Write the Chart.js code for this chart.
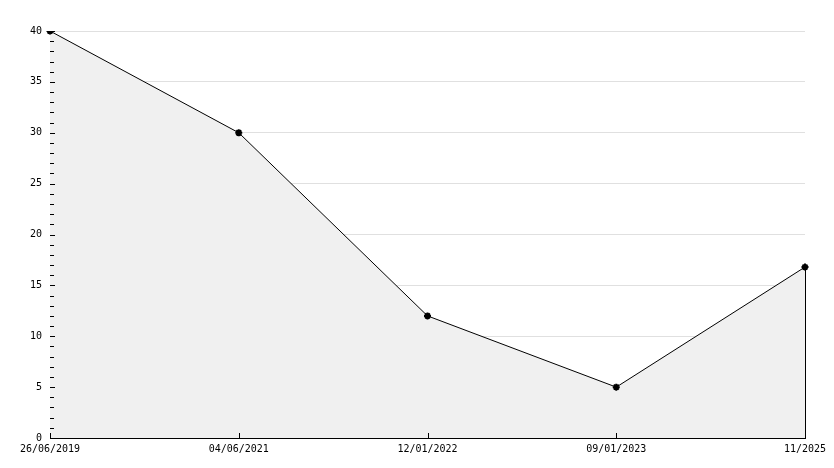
<!DOCTYPE html>
<html><head><meta charset="utf-8">
<script src="https://cdn.jsdelivr.net/npm/chart.js@4/dist/chart.umd.min.js"></script>
<style>html,body{margin:0;padding:0;background:#fff}#wrap{width:834px;height:468px}</style>
</head><body><div id="wrap"><canvas id="c" width="834" height="468"></canvas></div>
<script>
const categories = ["26/06/2019", "04/06/2021", "12/01/2022", "09/01/2023", "11/2025"];
const values = [40, 30, 12, 5, 16.8];
const yMin = 0, yMax = 40, yStep = 5, yMinorStep = 1;

const axisTicks = {
  id: 'axisTicks',
  afterDatasetsDraw(chart) {
    const ctx = chart.ctx, xs = chart.scales.x, ys = chart.scales.y, a = chart.chartArea;
    ctx.save();
    ctx.strokeStyle = '#000'; ctx.lineWidth = 1;
    // right edge of filled area
    const meta = chart.getDatasetMeta(0);
    const last = meta.data[meta.data.length - 1];
    ctx.beginPath();
    ctx.moveTo(Math.round(last.x) + 0.5, last.y);
    ctx.lineTo(Math.round(last.x) + 0.5, ys.getPixelForValue(yMin));
    ctx.stroke();
    // y ticks (inside)
    ctx.beginPath();
    for (let v = yMin; v <= yMax; v += yMinorStep) {
      const y = Math.round(ys.getPixelForValue(v)) + 0.5;
      const len = (v % yStep === 0) ? 5 : 4;
      ctx.moveTo(a.left, y); ctx.lineTo(a.left + len, y);
    }
    // x ticks (inside)
    for (let i = 0; i < categories.length; i++) {
      const x = Math.round(xs.getPixelForValue(i)) + 0.5;
      ctx.moveTo(x, a.bottom); ctx.lineTo(x, a.bottom - 5);
    }
    ctx.stroke();
    ctx.restore();
  }
};

new Chart(document.getElementById('c'), {
  type: 'line',
  data: {
    labels: categories,
    datasets: [{
      data: values,
      fill: 'origin',
      backgroundColor: '#f0f0f0',
      borderColor: '#000',
      borderWidth: 1,
      tension: 0,
      pointStyle: 'star',
      pointRadius: 3.5,
      pointBorderWidth: 2,
      pointBorderColor: '#000',
      pointBackgroundColor: '#000'
    }]
  },
  options: {
    responsive: false,
    animation: false,
    devicePixelRatio: 1,
    layout: { padding: { top: 31, right: 29, left: 0, bottom: 0 } },
    plugins: { legend: { display: false }, tooltip: { enabled: false } },
    scales: {
      x: {
        offset: false,
        grid: { display: false, drawTicks: false },
        border: { display: true, color: '#000', width: 1 },
        ticks: { color: '#000', font: { family: 'DejaVu Sans Mono', size: 10 }, padding: 5, maxRotation: 0, autoSkip: false },
        afterFit(s) { s.height = 30; }
      },
      y: {
        min: yMin, max: yMax,
        grid: { color: '#e0e0e0', drawTicks: false },
        border: { display: true, color: '#000', width: 1 },
        ticks: { stepSize: yStep, color: '#000', font: { family: 'DejaVu Sans Mono', size: 10 }, padding: 8 },
        afterFit(s) { s.width = 50; }
      }
    }
  },
  plugins: [axisTicks]
});
</script></body></html>
